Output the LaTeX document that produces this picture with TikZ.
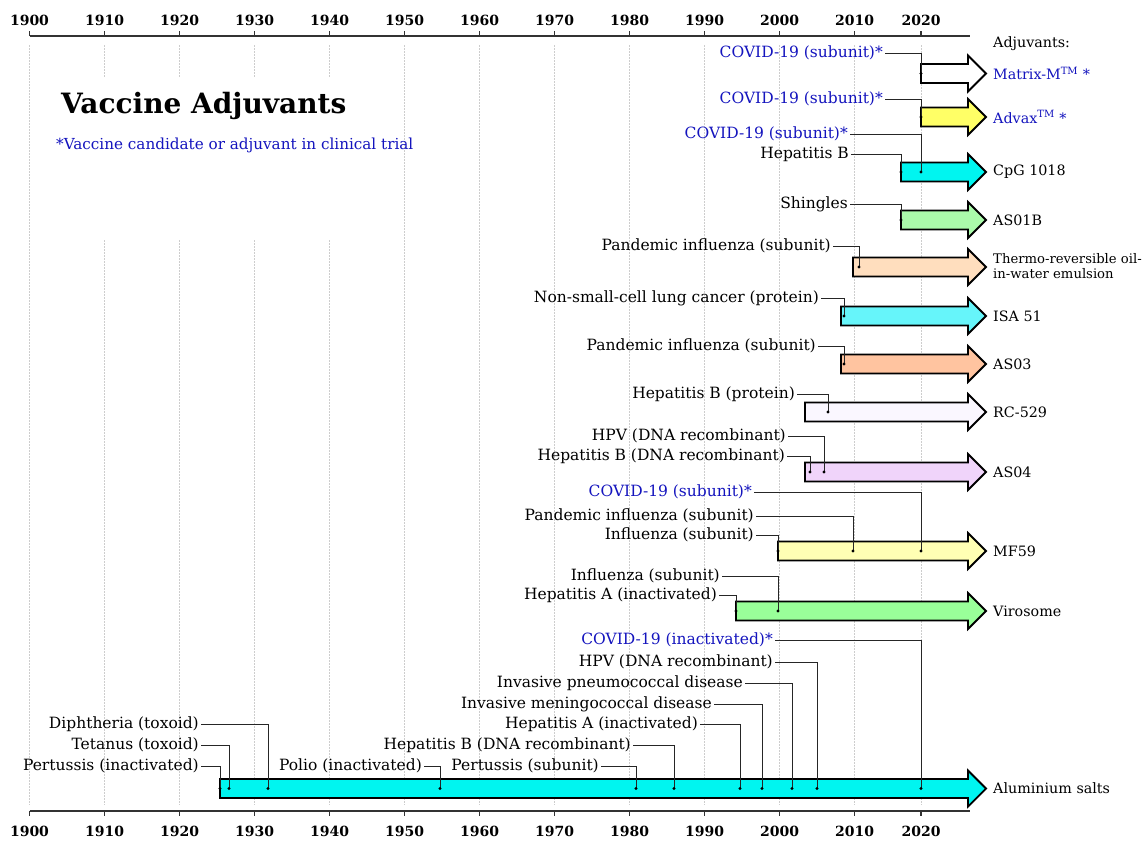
\documentclass[tikz,border=0pt]{standalone}
\usepackage{fontspec}
\setmainfont{DejaVu Serif}
\definecolor{covblue}{RGB}{20,20,190}
\definecolor{axisgray}{RGB}{50,50,50}
\definecolor{gridgray}{RGB}{205,205,205}
\definecolor{cAl}{RGB}{0,245,240}
\definecolor{cIsa}{RGB}{102,245,250}
\definecolor{cAso}{RGB}{170,250,170}
\definecolor{cThermo}{RGB}{255,222,190}
\definecolor{cAsiii}{RGB}{255,196,160}
\definecolor{cRc}{RGB}{250,247,255}
\definecolor{cAsiv}{RGB}{240,212,250}
\definecolor{cMf}{RGB}{255,255,180}
\definecolor{cViro}{RGB}{153,255,153}
\definecolor{cAdvax}{RGB}{255,255,102}
\newcommand\adjbar[3]{% xstart, y, fill
  \draw[barline, fill=#3] (#1,#2-9.5) -- (968,#2-9.5) -- (968,#2-18) -- (986,#2)
    -- (968,#2+18) -- (968,#2+9.5) -- (#1,#2+9.5) -- cycle;}
\newcommand\vlab[7]{% name, text, colour, xend, y, xdot, ybar
  \node[lbl, text=#3] (#1) at (#4,#5) {#2};
  \coordinate (#1d) at (#6,#7);
  \draw[conn] (#1.east) -| (#1d);
  \fill (#1d) circle (1.7);}
\tikzset{
  lbl/.style={anchor=east, inner xsep=2pt, inner ysep=0pt, font=\fontsize{15.5}{18}\selectfont, text height=11.5pt, text depth=3.5pt},
  rlbl/.style={anchor=west, inner sep=0pt, font=\fontsize{14.3}{17}\selectfont, align=left},
  conn/.style={draw=black!85, line width=0.9pt},
  barline/.style={draw=black, line width=1.8pt, line join=miter},
  axisline/.style={draw=axisgray, line width=2pt},
  gridline/.style={draw=gridgray, line width=0.8pt, dash pattern=on 1.5pt off 1.5pt},
  yearlbl/.style={font=\bfseries\fontsize{14}{16}\selectfont, inner sep=0pt},
}
\begin{document}
\begin{tikzpicture}[x=1pt, y=-1pt]
\useasboundingbox (0,0) rectangle (1143,841);
\fill[white] (0,0) rectangle (1143,841);
% grid lines
\foreach \gx in {29.5,104.5,...,854.5,921}
  \draw[gridline] (\gx,45) -- (\gx,805);
\fill[white] (40,77) rectangle (397,240);
% axes
\draw[axisline] (29.5,36) -- (970,36);
\draw[axisline] (29.5,811) -- (970,811);
\foreach \gx/\yr in {29.5/1900,104.5/1910,179.5/1920,254.5/1930,329.5/1940,404.5/1950,479.5/1960,554.5/1970,629.5/1980,704.5/1990,779.5/2000,854.5/2010,921/2020}{
  \draw[axisline, line width=1.4pt] (\gx,36) -- (\gx,31);
  \draw[axisline, line width=1.4pt] (\gx,811) -- (\gx,816);
  \node[yearlbl] (top\yr) at (\gx,20) {\yr};
  \node[yearlbl] (bot\yr) at (\gx,831) {\yr};
}
% title
\node[anchor=west, inner sep=0pt, font=\bfseries\fontsize{28}{33}\selectfont] (title) at (61,106) {Vaccine Adjuvants};
\node[anchor=west, inner sep=0pt, text=covblue, font=\fontsize{15.2}{18}\selectfont] (subtitle) at (56,145) {*Vaccine candidate or adjuvant in clinical trial};
% bars
\adjbar{921}{73.5}{white}
\adjbar{921}{117}{cAdvax}
\adjbar{901}{172}{cAl}
\adjbar{901}{220}{cAso}
\adjbar{853}{267}{cThermo}
\adjbar{841}{316}{cIsa}
\adjbar{841}{364}{cAsiii}
\adjbar{805}{412}{cRc}
\adjbar{805}{472}{cAsiv}
\adjbar{778}{551}{cMf}
\adjbar{736}{611}{cViro}
\adjbar{220}{788.5}{cAl}
% right-hand labels
\node[rlbl] (adj) at (993,44) {Adjuvants:};
\node[rlbl, text=covblue] (matrix) at (993,73.5) {Matrix-M\textsuperscript{TM} *};
\node[rlbl, text=covblue] (advax) at (993,117) {Advax\textsuperscript{TM} *};
\node[rlbl] (cpg) at (993,172) {CpG 1018};
\node[rlbl] (asob) at (993,220) {AS01B};
\node[rlbl, font=\fontsize{13.2}{14.5}\selectfont] (thermo) at (993,266) {Thermo-reversible oil-\\in-water emulsion};
\node[rlbl] (isa) at (993,316) {ISA 51};
\node[rlbl] (asiii) at (993,364) {AS03};
\node[rlbl] (rc) at (993,412) {RC-529};
\node[rlbl] (asiv) at (993,472) {AS04};
\node[rlbl] (mf) at (993,551) {MF59};
\node[rlbl] (viro) at (993,611) {Virosome};
\node[rlbl] (alum) at (993,788.5) {Aluminium salts};
% vaccine labels and connectors
\vlab{ca}{COVID-19 (subunit)*}{covblue}{885}{53}{921}{73.5}
\vlab{cb}{COVID-19 (subunit)*}{covblue}{885}{99}{921}{117}
\vlab{cc}{COVID-19 (subunit)*}{covblue}{850}{134}{921}{172}
\vlab{hba}{Hepatitis B}{black}{851}{154}{901}{172}
\vlab{sh}{Shingles}{black}{850}{204}{901}{220}
\vlab{pia}{Pandemic influenza (subunit)}{black}{833}{246}{859}{267}
\vlab{nsc}{Non-small-cell lung cancer (protein)}{black}{821}{298}{844}{316}
\vlab{pib}{Pandemic influenza (subunit)}{black}{818}{346}{844}{364}
\vlab{hbp}{Hepatitis B (protein)}{black}{797}{394}{828}{412}
\vlab{hpva}{HPV (DNA recombinant)}{black}{788}{436}{824}{472}
\vlab{hbda}{Hepatitis B (DNA recombinant)}{black}{787}{456}{810}{472}
\vlab{cd}{COVID-19 (subunit)*}{covblue}{754}{492}{921}{551}
\vlab{pic}{Pandemic influenza (subunit)}{black}{756}{516}{853}{551}
\vlab{infa}{Influenza (subunit)}{black}{756}{535}{778}{551}
\vlab{infb}{Influenza (subunit)}{black}{722}{576}{778}{611}
\vlab{hava}{Hepatitis A (inactivated)}{black}{719}{595}{736}{611}
\vlab{ce}{COVID-19 (inactivated)*}{covblue}{775}{640}{921}{788.5}
\vlab{hpvb}{HPV (DNA recombinant)}{black}{775}{662}{817}{788.5}
\vlab{ipd}{Invasive pneumococcal disease}{black}{745}{683}{792}{788.5}
\vlab{imd}{Invasive meningococcal disease}{black}{714}{704}{762}{788.5}
\vlab{havb}{Hepatitis A (inactivated)}{black}{700}{724}{740}{788.5}
\vlab{hbdb}{Hepatitis B (DNA recombinant)}{black}{633}{745}{674}{788.5}
\vlab{pers}{Pertussis (subunit)}{black}{601}{766}{636}{788.5}
\vlab{polio}{Polio (inactivated)}{black}{424}{766}{440}{788.5}
\vlab{dip}{Diphtheria (toxoid)}{black}{201}{724}{268}{788.5}
\vlab{tet}{Tetanus (toxoid)}{black}{201}{745}{229}{788.5}
\vlab{peri}{Pertussis (inactivated)}{black}{201}{766}{220}{788.5}
\end{tikzpicture}
\end{document}
